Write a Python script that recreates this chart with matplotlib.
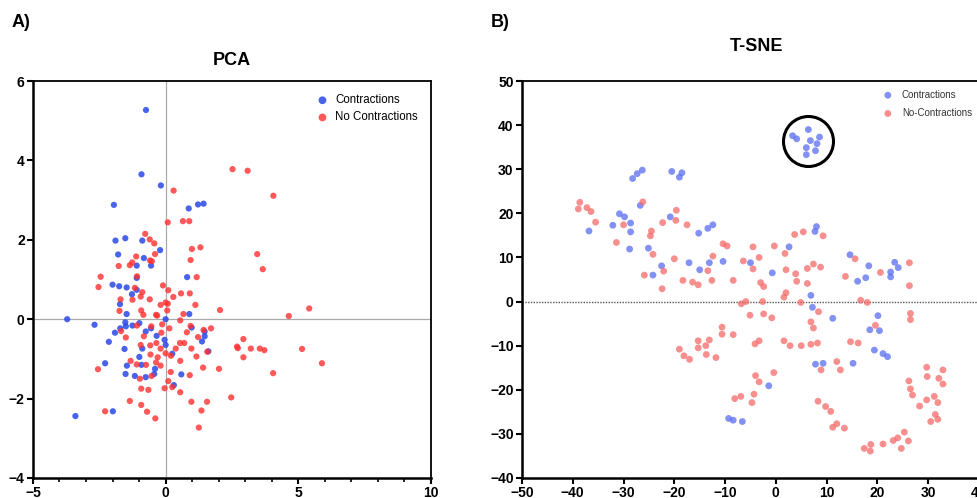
import matplotlib.pyplot as plt
import numpy as np

plt.rcParams['font.family'] = ['Liberation Sans', 'DejaVu Sans']

# PCA data

pca_con_x = [-0.74, -0.91, -0.18, -1.95, 0.87, 1.22, 1.43, -1.89, -1.52, -0.88,
             -0.21, -1.79, -0.82, -0.55, -1.09, -1.09, 0.81, -2.0, -1.75, -1.47,
             -1.09, -1.27, -1.72, -1.47, 0.89, -3.71, -2.68, -1.52, -1.5, -1.71,
             -1.91, -1.25, -0.99, -0.55, -0.75, 0.0, -0.34, 0.98, 1.47, 1.37,
             1.47, -2.14, -0.04, 0.0, -1.55, -0.88, 0.25, 1.61, -0.99, -2.28,
             -1.46, -0.91, -0.4, -1.51, -1.16, -0.75, -0.43, 0.59, 0.31, -1.99,
             -3.4]
pca_con_y = [5.27, 3.65, 3.37, 2.88, 2.79, 2.89, 2.91, 1.98, 2.04, 1.98,
             1.74, 1.63, 1.54, 1.35, 1.35, 1.04, 1.06, 0.87, 0.83, 0.80,
             0.74, 0.63, 0.38, 0.13, 0.13, 0.0, -0.14, -0.08, -0.18, -0.23,
             -0.34, -0.16, -0.1, -0.23, -0.31, 0.0, -0.42, -0.21, -0.43, -0.56,
             -0.31, -0.57, -0.52, -0.65, -0.75, -0.74, -0.87, -0.81, -0.95, -1.11,
             -1.17, -1.15, -1.25, -1.38, -1.43, -1.46, -1.38, -1.39, -1.66, -2.32,
             -2.44]

pca_nocon_x = [2.52, 3.09, 0.3, 4.06, 0.08, 0.65, 0.89, -0.77, -0.6, -0.43,
               1.31, 0.99, -0.4, 3.45, -1.77, -1.35, -1.26, -1.11, -0.59, -0.52,
               0.94, 3.66, -2.45, -1.08, 1.17, -2.53, -1.16, -0.88, -0.1, 0.1,
               0.29, 0.58, 0.91, -1.7, -1.25, -0.94, -0.6, -1.74, 1.12, -0.19,
               0.0, 0.08, 0.06, -0.92, -0.84, -0.36, -0.32, 0.67, 2.05, 4.64,
               5.41, -1.08, -0.54, -0.13, 0.14, 0.55, -1.68, -1.5, -0.82, -0.16,
               0.94, 1.43, 1.71, 1.22, 0.8, -0.94, -0.58, -0.35, -0.19, 0.0,
               0.38, 0.54, 0.7, 0.97, 2.69, 2.72, 2.93, 3.21, 3.55, 3.72,
               5.14, 5.89, -0.57, -1.32, -0.3, 0.2, 0.55, 1.16, 1.57, 2.93,
               -2.55, -1.09, -0.74, -0.19, -0.36, 1.41, 2.01, 0.19, 0.91, 4.05,
               -0.97, -0.53, 0.1, -0.92, -0.65, -0.04, 0.25, 0.55, -1.35, -0.92,
               0.97, 1.56, 2.47, -2.28, -0.7, 1.35, -0.39, 1.25]
pca_nocon_y = [3.78, 3.74, 3.24, 3.11, 2.44, 2.47, 2.47, 2.15, 2.01, 1.91,
               1.81, 1.77, 1.64, 1.64, 1.34, 1.36, 1.43, 1.58, 1.48, 1.46,
               1.49, 1.26, 1.07, 1.08, 1.06, 0.81, 0.79, 0.68, 0.85, 0.73,
               0.56, 0.65, 0.65, 0.5, 0.49, 0.57, 0.5, 0.21, 0.36, 0.36,
               0.42, 0.39, 0.22, 0.22, 0.11, 0.11, 0.09, 0.13, 0.23, 0.08,
               0.27, -0.16, -0.18, -0.13, -0.23, -0.03, -0.30, -0.46, -0.43, -0.34,
               -0.17, -0.27, -0.23, -0.45, -0.33, -0.65, -0.66, -0.6, -0.74, -0.86,
               -0.74, -0.6, -0.6, -0.74, -0.69, -0.73, -0.5, -0.74, -0.74, -0.78,
               -0.75, -1.11, -0.89, -1.05, -0.96, -0.92, -1.05, -0.94, -0.82, -0.96,
               -1.26, -1.14, -1.15, -1.17, -1.09, -1.22, -1.25, -1.33, -1.41, -1.36,
               -1.5, -1.43, -1.56, -1.75, -1.78, -1.74, -1.71, -1.84, -2.06, -2.16,
               -2.08, -2.08, -1.97, -2.32, -2.33, -2.30, -2.5, -2.73]

# T-SNE data

tsne_cluster_x = [3.3, 4.1, 6.4, 6.8, 8.6, 8.1, 6.0, 7.8, 6.0]
tsne_cluster_y = [37.6, 36.9, 39.0, 36.5, 37.3, 35.8, 34.9, 34.2, 33.3]

tsne_con_x = [-28.2, -27.3, -26.3, -20.5, -18.5, -19.0, -26.7, -36.8, -32.1, -30.8,
              -29.8, -28.6, -28.6, -28.8, -25.1, -24.2, -22.5, -20.8, -17.1, -15.2,
              -15.0, -13.4, -12.4, -13.1, -10.4, -5.0, -0.7, 2.6, 7.7, 8.0,
              6.9, 7.2, 11.2, 14.6, 16.1, 17.7, 18.3, 22.6, 22.6, 23.4,
              24.1, 18.5, 20.1, 20.4, 19.4, 21.1, 22.0, 7.8, 9.3, 15.2,
              -1.4, -9.3, -8.4, -6.6]
tsne_con_y = [27.9, 29.0, 29.8, 29.5, 29.2, 28.2, 21.8, 16.0, 17.3, 19.9,
              19.2, 17.8, 15.8, 11.9, 12.1, 6.0, 8.1, 19.2, 8.8, 15.5,
              7.2, 16.6, 17.4, 8.8, 9.1, 8.8, 6.5, 12.4, 15.9, 17.0,
              1.4, -1.3, -3.8, 10.6, 4.6, 5.4, 8.1, 5.6, 6.7, 8.9,
              7.7, -6.4, -3.2, -6.6, -11.0, -11.8, -12.5, -14.2, -14.0, -14.0,
              -19.1, -26.5, -26.9, -27.2]

tsne_nocon_x = [-38.9, -38.6, -37.2, -36.4, -35.5, -31.4, -30.0, -26.2, -24.7, -24.5,
                -24.2, -25.9, -22.3, -22.1, -22.4, -20.0, -19.6, -19.7, -17.5, -18.3,
                -16.4, -15.3, -13.4, -12.6, -12.4, -10.4, -9.6, -8.4, -6.4, -4.5,
                -3.3, -4.5, -3.0, -2.4, -0.3, 1.8, 2.0, 3.7, 5.4, 3.9,
                4.1, 6.2, 7.4, 8.8, 9.3, 6.2, 2.0, 1.6, 4.9, -6.8,
                -5.9, -2.6, -5.1, -2.4, -0.8, 6.9, 7.4, 8.4, 13.7, 15.6,
                16.7, 18.0, 20.6, 26.3, 26.3, 26.5, 26.5, 19.6, -10.6, -10.6,
                -8.4, -15.3, -15.3, -13.1, -13.8, -13.7, -11.8, -19.0, -18.1, -17.0,
                -4.1, -3.3, 1.6, 2.8, 5.0, 6.9, 8.2, 14.7, 16.2, 8.9,
                12.0, 12.7, -0.4, -4.0, -3.3, -4.3, -4.7, -8.1, -6.9, 8.3,
                9.8, 10.8, 11.2, 12.0, 13.5, 17.4, 18.6, 18.7, 21.1, 23.1,
                24.0, 25.3, 24.7, 26.1, 26.2, 26.5, 26.9, 28.3, 29.7, 29.8,
                29.7, 30.5, 31.2, 31.4, 31.9, 31.9, 32.1, 32.9, 32.9]
tsne_nocon_y = [21.0, 22.5, 21.3, 20.4, 18.0, 13.4, 17.4, 22.6, 14.9, 16.0,
                10.7, 6.0, 17.9, 6.9, 2.9, 9.7, 20.7, 18.4, 17.4, 4.8,
                4.4, 3.8, 7.0, 4.8, 10.3, 13.1, 12.6, 4.8, 9.2, 12.4,
                10.0, 7.4, 4.3, 3.4, 12.6, 10.9, 7.2, 15.2, 15.8, 6.3,
                4.6, 7.5, 8.5, 7.8, 14.9, 4.1, 2.0, 1.0, -0.2, -0.5,
                0.0, 0.0, -3.1, -2.8, -3.7, -4.6, -6.0, -2.3, 5.7, 9.7,
                0.3, -0.2, 6.6, 8.8, 3.6, -2.7, -4.1, -5.4, -5.8, -7.4,
                -7.5, -8.9, -10.5, -8.7, -10.0, -12.0, -12.7, -10.8, -12.3, -13.1,
                -9.6, -8.9, -8.9, -10.0, -10.0, -9.7, -9.4, -9.1, -9.4, -15.5,
                -13.6, -15.5, -16.1, -16.8, -18.2, -21.0, -22.9, -22.0, -21.5, -22.6,
                -23.8, -24.9, -28.5, -27.7, -28.7, -33.3, -33.9, -32.4, -32.3, -31.5,
                -30.9, -29.6, -33.3, -31.6, -18.0, -19.8, -21.2, -23.7, -14.9, -17.0,
                -22.3, -27.2, -21.5, -25.6, -26.7, -22.9, -17.4, -15.5, -18.7]

fig = plt.figure(figsize=(9.78, 4.98), dpi=100)

tick_font = {'size': 10, 'weight': 'bold'}

# Left panel: PCA

ax1 = fig.add_axes([0.0337, 0.0402, 0.4070, 0.7971])
ax1.axhline(0, color='#aaaaaa', lw=0.9, zorder=0)
ax1.axvline(0, color='#aaaaaa', lw=0.9, zorder=0)
ax1.scatter(pca_con_x, pca_con_y, s=20, color='#2a48e8', alpha=0.85,
            edgecolors='none', label='Contractions', zorder=3)
ax1.scatter(pca_nocon_x, pca_nocon_y, s=20, color='#ff2e2e', alpha=0.8,
            edgecolors='none', label='No Contractions', zorder=3)
ax1.set_xlim(-5, 10)
ax1.set_ylim(-4, 6)
ax1.set_xticks([-5, 0, 5, 10])
ax1.set_xticks(np.arange(-5, 11, 1), minor=True)
ax1.set_yticks([-4, -2, 0, 2, 4, 6])
ax1.legend(loc='upper right', frameon=False, fontsize=8.3, handletextpad=0.1,
           markerscale=1.25, borderaxespad=0.75, labelspacing=0.45)

# Right panel: T-SNE

ax2 = fig.add_axes([0.5337, 0.0402, 0.4673, 0.7971])
ax2.axhline(0, color='#555555', lw=1.0, ls=(0, (1, 1)), zorder=0)
ax2.scatter(tsne_con_x + tsne_cluster_x, tsne_con_y + tsne_cluster_y, s=24,
            color='#5a6cf0', alpha=0.75, edgecolors='none', label='Contractions',
            zorder=3)
ax2.scatter(tsne_nocon_x, tsne_nocon_y, s=24, color='#f66a6a', alpha=0.75,
            edgecolors='none', label='No-Contractions', zorder=3)
# circle round the separated cluster
ax2.plot(np.mean(tsne_cluster_x), np.mean(tsne_cluster_y) + 0.3, 'o', ms=36,
         mfc='none', mec='black', mew=2.2, zorder=4)
ax2.set_xlim(-50, 40)
ax2.set_ylim(-40, 50)
ax2.set_xticks(np.arange(-50, 41, 10))
ax2.set_yticks(np.arange(-40, 51, 10))
leg2 = ax2.legend(loc='upper right', frameon=False, fontsize=7, handletextpad=0.45,
                  borderaxespad=0.5, labelspacing=0.85, bbox_to_anchor=(1.004, 1.0))
for t in leg2.get_texts():
    t.set_color('#333333')

for ax in (ax1, ax2):
    for side in ('left', 'bottom'):
        ax.spines[side].set_linewidth(1.8)
    for side in ('top', 'right'):
        ax.spines[side].set_linewidth(1.3)
    ax.tick_params(which='major', direction='out', length=4, width=1.5, pad=2)
    ax.tick_params(which='minor', direction='out', length=3, width=1.2)
    ax.tick_params(top=False, right=False)
    for lab in ax.get_xticklabels() + ax.get_yticklabels():
        lab.set_fontsize(tick_font['size'])
        lab.set_fontweight(tick_font['weight'])

# Titles and panel letters

fig.text(0.2372, 0.8795, 'PCA', ha='center', va='center', fontsize=13, fontweight='bold')
fig.text(0.774, 0.9076, 'T-SNE', ha='center', va='center', fontsize=13, fontweight='bold')
fig.text(0.0215, 0.9558, 'A)', ha='center', va='center', fontsize=13, fontweight='bold')
fig.text(0.5115, 0.9558, 'B)', ha='center', va='center', fontsize=13, fontweight='bold')

fig.savefig('out.png', dpi=100)
